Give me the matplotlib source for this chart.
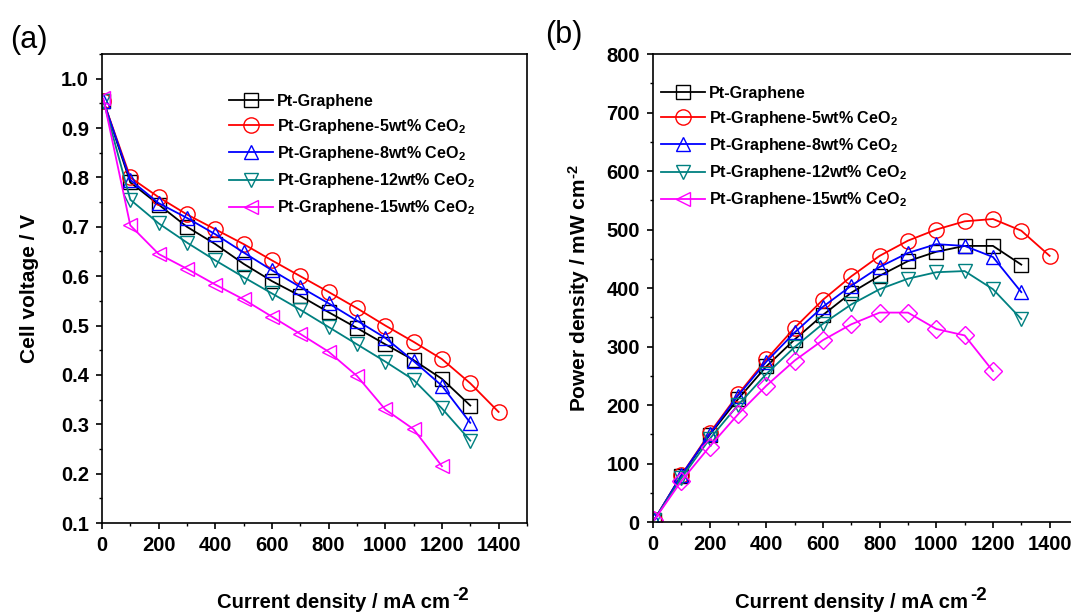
import matplotlib
matplotlib.use("Agg")
import matplotlib.pyplot as plt
from matplotlib.lines import Line2D
from matplotlib.ticker import MultipleLocator

plt.rcParams["font.family"] = "Liberation Sans"
plt.rcParams["font.weight"] = "bold"
plt.rcParams["mathtext.fontset"] = "custom"
plt.rcParams["mathtext.bf"] = "Liberation Sans:bold"
plt.rcParams["mathtext.rm"] = "Liberation Sans:bold"
plt.rcParams["mathtext.default"] = "bf"

# current density, mA cm-2 (first point is open circuit)
current = [5, 100, 200, 300, 400, 500, 600, 700, 800, 900, 1000, 1100, 1200, 1300, 1400]

labels = ["Pt-Graphene",
          "Pt-Graphene-5wt% CeO$_2$",
          "Pt-Graphene-8wt% CeO$_2$",
          "Pt-Graphene-12wt% CeO$_2$",
          "Pt-Graphene-15wt% CeO$_2$"]
colors = ["black", "#ff0000", "#0000ff", "#008080", "#ff00ff"]

# cell voltage / V
v_pt = [0.955, 0.79, 0.745, 0.70, 0.665, 0.625, 0.59, 0.56, 0.527, 0.495, 0.462, 0.43, 0.392, 0.338]
v_5 = [0.955, 0.80, 0.76, 0.725, 0.695, 0.665, 0.632, 0.60, 0.568, 0.535, 0.50, 0.467, 0.432, 0.383, 0.325]
v_8 = [0.955, 0.795, 0.748, 0.718, 0.685, 0.648, 0.612, 0.578, 0.545, 0.51, 0.475, 0.428, 0.378, 0.303]
v_12 = [0.955, 0.755, 0.707, 0.668, 0.632, 0.598, 0.565, 0.532, 0.497, 0.462, 0.427, 0.39, 0.332, 0.267]
v_15 = [0.96, 0.703, 0.645, 0.615, 0.583, 0.553, 0.518, 0.483, 0.447, 0.398, 0.33, 0.29, 0.215]

# power density / mW cm-2
p_pt = [4, 79, 149, 210, 266, 312, 354, 392, 421, 446, 462, 472, 472, 440]
p_5 = [4, 80, 152, 218, 278, 332, 380, 420, 455, 481, 500, 514, 518, 498, 455]
p_8 = [4, 80, 150, 216, 274, 324, 368, 404, 436, 460, 475, 472, 453, 393]
p_12 = [4, 75, 142, 200, 253, 299, 339, 372, 398, 416, 427, 429, 398, 347]
p_15 = [4, 70, 129, 184, 233, 276, 311, 338, 358, 358, 330, 319, 258]

volts = [v_pt, v_5, v_8, v_12, v_15]
powers = [p_pt, p_5, p_8, p_12, p_15]
markers_a = ["s", "o", "^", "v", "<"]
markers_b = ["s", "o", "^", "v", "D"]

fig = plt.figure(figsize=(10.71, 6.14), dpi=100)
ax1 = fig.add_axes([0.0952, 0.1482, 0.3968, 0.7638])
ax2 = fig.add_axes([0.6097, 0.1498, 0.3968, 0.7622])

ms = {"s": 10, "o": 11, "^": 10.5, "v": 10.5, "<": 10.5, "D": 9}

for ys, c, m in zip(volts, colors, markers_a):
    ax1.plot(current[:len(ys)], ys, color=c, lw=1.3, marker=m, ms=ms[m],
             mfc="none", mec=c, mew=1.0)

for ys, c, m in zip(powers, colors, markers_b):
    ax2.plot(current[:len(ys)], ys, color=c, lw=1.3, marker=m, ms=ms[m],
             mfc="none", mec=c, mew=1.0)

# legend of (b) also shows the left triangle, as in the original
handles = [Line2D([], [], color=c, lw=1.3, marker=m, ms=ms[m], mfc="none", mec=c, mew=1.0)
           for c, m in zip(colors, markers_a)]

for ax, pos in [(ax1, (229, 94)), (ax2, (661, 86))]:
    ax.legend(handles, labels, loc="upper left",
              bbox_to_anchor=(pos[0] / 1071, 1 - pos[1] / 614),
              bbox_transform=fig.transFigure, frameon=False,
              prop={"size": 11.6, "weight": "bold"}, handlelength=2.7,
              handletextpad=0.3, labelspacing=0.5, borderpad=0, borderaxespad=0)

ax1.set_xlim(0, 1500)
ax1.set_ylim(0.1, 1.05)
ax1.yaxis.set_minor_locator(MultipleLocator(0.05))
ax1.set_yticks([0.1, 0.2, 0.3, 0.4, 0.5, 0.6, 0.7, 0.8, 0.9, 1.0])
ax1.set_yticklabels(["0.1", "0.2", "0.3", "0.4", "0.5", "0.6", "0.7", "0.8", "0.9", "1.0"])

ax2.set_xlim(0, 1500)
ax2.set_ylim(0, 800)
ax2.yaxis.set_major_locator(MultipleLocator(100))
ax2.yaxis.set_minor_locator(MultipleLocator(50))

for ax in [ax1, ax2]:
    ax.xaxis.set_major_locator(MultipleLocator(200))
    ax.xaxis.set_minor_locator(MultipleLocator(100))
    ax.tick_params(which="major", direction="out", length=4.5, width=1.2,
                   labelsize=14.5, pad=5, top=False, right=False)
    ax.tick_params(which="minor", direction="out", length=2.5, width=1.0,
                   top=False, right=False)
    for sp in ax.spines.values():
        sp.set_linewidth(1.2)
    for t in ax.get_xticklabels() + ax.get_yticklabels():
        t.set_fontweight("bold")

ax1.set_ylabel("Cell voltage / V", fontsize=15, fontweight="bold", labelpad=16)
ax2.set_ylabel(r"Power density / mW cm$^{\text{-2}}$", fontsize=15, fontweight="bold", labelpad=10)

for x0 in [217, 735]:
    t = fig.text(x0 / 1071, 1 - 608 / 614, "Current density / mA cm", fontsize=14.6,
                 fontweight="bold", ha="left", va="baseline")
    fig.canvas.draw()
    bb = t.get_window_extent()
    fig.text(bb.x1 / 1071 + 0.002, (bb.y0 + 8) / 614, "-2", fontsize=13.5,
             fontweight="bold", ha="left", va="bottom")

fig.text(10 / 1071, 1 - 48 / 614, "(a)", fontsize=22, fontweight="normal", va="baseline")
fig.text(545 / 1071, 1 - 43 / 614, "(b)", fontsize=22, fontweight="normal", va="baseline")

fig.savefig("out.png", dpi=100)
